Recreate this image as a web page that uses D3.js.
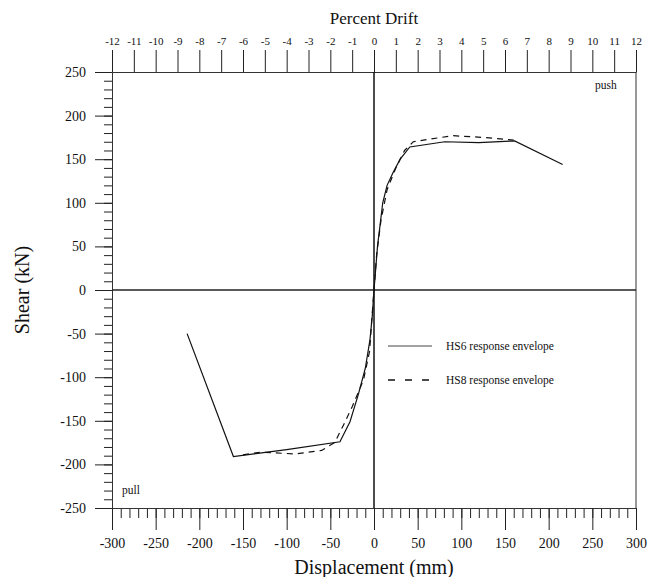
<!DOCTYPE html>
<html><head><meta charset="utf-8">
<script src="https://cdn.jsdelivr.net/npm/d3@7"></script>
<style>body{margin:0;background:#fff}svg{display:block}text{font-family:"Liberation Serif","Times New Roman",serif;fill:#111}</style>
</head><body><svg id="c" width="651" height="577"></svg>
<script>
// HS6 response envelope [displacement mm, shear kN]
const hs6Disp  = [-214,-161,-100,-39,-27.5,-18,-10,-4.6,-2,0,2,4,7,10,15,22,30,41,81,120,161,216];
const hs6Shear = [-50,-191,-183,-174,-151,-120,-90,-57,-30,0,25,50,75,100,120,135,150,164,170,169,171,144];
// HS8 response envelope
const hs8Disp  = [-150,-130,-90,-60,-45,-35,-25,-12,-5,-3,0,3,8,15,25,35,45,90,125,160];
const hs8Shear = [-189,-186,-188,-184,-175,-155,-134,-103,-70,-40,0,40,80,115,140,160,170,177,175,172];
const xMajorTicks = [-300,-250,-200,-150,-100,-50,0,50,100,150,200,250,300];
const yMajorTicks = [-250,-200,-150,-100,-50,0,50,100,150,200,250];
const driftTicks = d3.range(-12,13);
const legendLabels = ["HS6 response envelope","HS8 response envelope"];

const svg = d3.select("#c");
const L=112,R=636,T=72,B=508;
const x = d3.scaleLinear().domain([-300,300]).range([L,R]);
const y = d3.scaleLinear().domain([-250,250]).range([B,T]);
const xd = d3.scaleLinear().domain([-12,12]).range([L,R]);
const fmt = d => String(d);

function style(g){g.select(".domain").attr("stroke","#333");g.selectAll(".tick line").attr("stroke","#222");}

// minor ticks
svg.append("g").attr("transform",`translate(0,${B})`)
  .call(d3.axisBottom(x).tickValues(d3.range(-300,301,10)).tickSize(10).tickFormat(""))
  .call(style);
svg.append("g").attr("transform",`translate(${L},0)`)
  .call(d3.axisLeft(y).tickValues(d3.range(-250,251,10)).tickSize(8).tickFormat(""))
  .call(style);
// major ticks
const bx = svg.append("g").attr("transform",`translate(0,${B})`)
  .call(d3.axisBottom(x).tickValues(xMajorTicks).tickSize(22).tickSizeOuter(0).tickPadding(8).tickFormat(fmt))
  .call(style);
bx.selectAll("text").attr("font-size",14).attr("font-family","Liberation Serif").attr("fill","#111");
const ly = svg.append("g").attr("transform",`translate(${L},0)`)
  .call(d3.axisLeft(y).tickValues(yMajorTicks).tickSize(17).tickSizeOuter(0).tickPadding(9).tickFormat(fmt))
  .call(style);
ly.selectAll("text").attr("font-size",14).attr("font-family","Liberation Serif").attr("fill","#111");
const tx = svg.append("g").attr("transform",`translate(0,${T})`)
  .call(d3.axisTop(xd).tickValues(driftTicks).tickSize(22).tickSizeOuter(0).tickPadding(5).tickFormat(fmt))
  .call(style);
tx.selectAll("text").attr("font-size",11).attr("font-family","Liberation Serif").attr("fill","#111");

// right frame
svg.append("line").attr("x1",R).attr("x2",R).attr("y1",T).attr("y2",B).attr("stroke","#333");
// zero lines
svg.append("line").attr("x1",x(0)).attr("x2",x(0)).attr("y1",T).attr("y2",B).attr("stroke","#111").attr("stroke-width",1.5);
svg.append("line").attr("x1",L).attr("x2",R).attr("y1",y(0)).attr("y2",y(0)).attr("stroke","#222").attr("stroke-width",1.3);

const line = d3.line().x(d=>x(d[0])).y(d=>y(d[1]));
const hs6 = hs6Disp.map((d,i)=>[d,hs6Shear[i]]);
const hs8 = hs8Disp.map((d,i)=>[d,hs8Shear[i]]);
svg.append("path").datum(hs8).attr("d",line).attr("fill","none").attr("stroke","#111").attr("stroke-width",1.2).attr("stroke-dasharray","6,5");
svg.append("path").datum(hs6).attr("d",line).attr("fill","none").attr("stroke","#111").attr("stroke-width",1.2);

// legend
svg.append("line").attr("x1",388).attr("x2",432).attr("y1",346).attr("y2",346).attr("stroke","#444").attr("stroke-width",1);
svg.append("line").attr("x1",388).attr("x2",432).attr("y1",380).attr("y2",380).attr("stroke","#111").attr("stroke-width",1.3).attr("stroke-dasharray","7,10");
svg.append("text").attr("x",446).attr("y",350).attr("font-size",11.5).text(legendLabels[0]);
svg.append("text").attr("x",446).attr("y",384).attr("font-size",11.5).text(legendLabels[1]);

// annotations
svg.append("text").attr("x",595).attr("y",89).attr("font-size",11.5).attr("font-family","Liberation Sans").text("push");
svg.append("text").attr("x",122).attr("y",494).attr("font-size",11.5).attr("font-family","Liberation Sans").text("pull");

// titles
svg.append("text").attr("x",374).attr("y",24).attr("text-anchor","middle").attr("font-size",17).text("Percent Drift");
svg.append("text").attr("x",374).attr("y",574).attr("text-anchor","middle").attr("font-size",20).text("Displacement (mm)");
svg.append("text").attr("transform","translate(29,290) rotate(-90)").attr("text-anchor","middle").attr("font-size",20).text("Shear (kN)");
</script></body></html>
